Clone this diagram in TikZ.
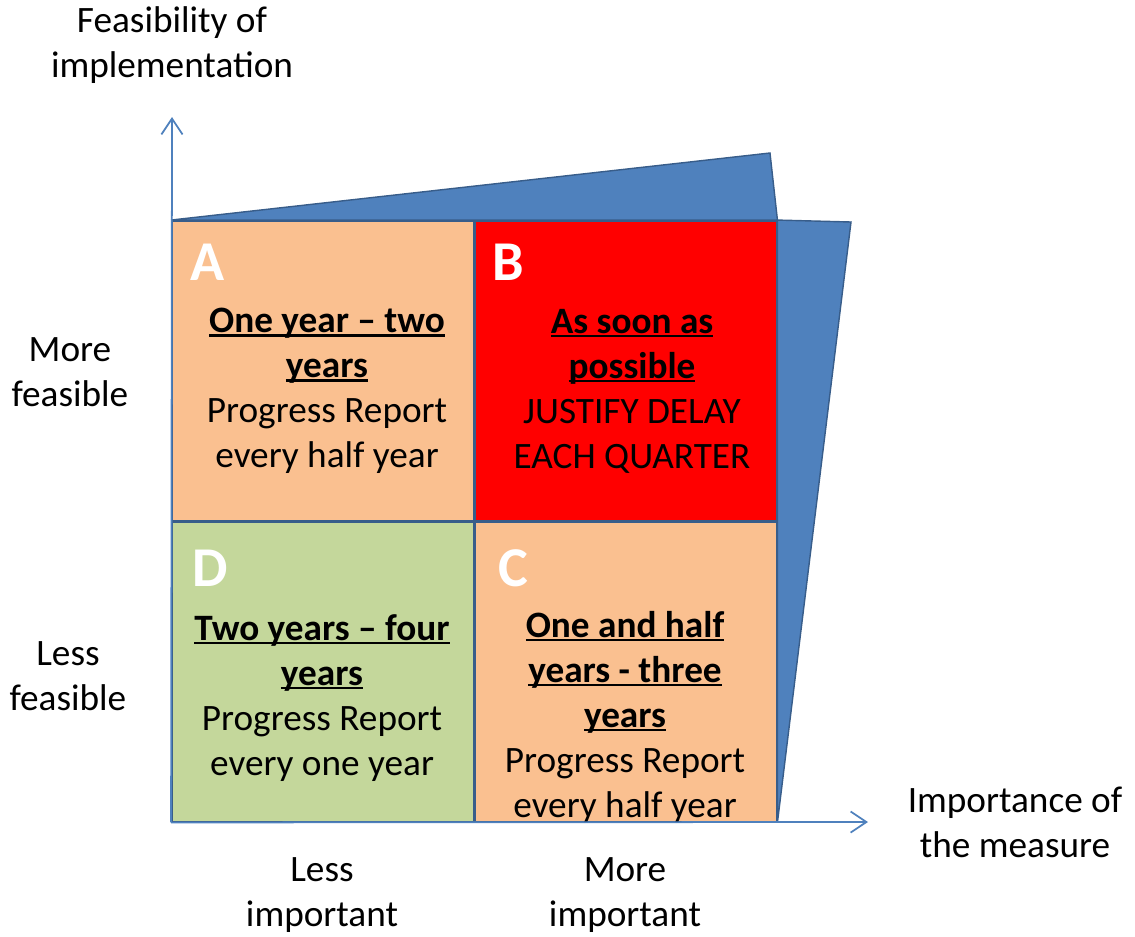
\documentclass[tikz,border=0pt]{standalone}
\usepackage{fontspec}
\setmainfont{Carlito}
\usetikzlibrary{%
	arrows.meta,%
	positioning,%
}
\definecolor{cpeach}{RGB}{250, 192, 144}
\definecolor{cred}{RGB}{255, 0, 0}
\definecolor{cgreen}{RGB}{196, 215, 155}
\definecolor{cblue}{RGB}{79, 129, 189}
\definecolor{cbluedark}{RGB}{56, 93, 138}
\tikzset{
	>={Straight Barb[length=9pt,width=12pt]},%
	nodes={align=center},%
	cell/.style={%
			draw=cbluedark,%
			rectangle,%
			line width=1.1pt,%
			minimum width=6.04cm,%
			minimum height=6cm,%
			inner sep=0},%
	letter/.style={%
			font={\fontsize{32}{38}\selectfont\bfseries},%
			text=white,%
			inner sep=0},%
	celltext/.style={%
			font={\fontsize{21.2}{25.6}\selectfont},%
			inner sep=0},%
	axislabel/.style={%
			font={\fontsize{21.2}{25.6}\selectfont},%
			inner sep=0},%
	wedge/.style={%
			fill=cblue,%
			draw=cbluedark,%
			line width=0.8pt},%
	axis/.style={%
			->,%
			draw=cblue,%
			line width=1pt},%
}
\newcommand{\heading}[1]{\textbf{\setbox0\hbox{#1}\rlap{\rule[-2.2pt]{\wd0}{1.3pt}}\box0}}

\begin{document}
\begin{tikzpicture}[x=0.02cm, y=-0.02cm]%
	\useasboundingbox (0,0) rectangle (1135,936);

	\node[cell, fill=cpeach] (cellA) at (323,371) {};
	\node[cell, fill=cred] (cellB) at (625.5,371) {};
	\node[cell, fill=cgreen] (cellD) at (323,671.5) {};
	\node[cell, fill=cpeach] (cellC) at (625.5,671.5) {};

	\coordinate (wtop) at (770,153);
	\coordinate (wright) at (851,222);
	\draw[wedge] (cellA.north west) -- (wtop) -- (cellB.north east) -- cycle;
	\draw[wedge] (cellB.north east) -- (wright) -- (cellC.south east) -- cycle;

	\node[letter] (letA) at (208,262) {A};
	\node[letter] (letB) at (508,262) {B};
	\node[letter] (letD) at (210,568) {D};
	\node[letter] (letC) at (513,568) {C};

	\node[celltext] (textA) at (327,391) {\heading{One year -- two}\\
			\heading{years}\\
			Progress Report\\
			every half year};
	\node[celltext] (textB) at (632,391) {\heading{As soon as}\\
			\heading{possible}\\
			JUSTIFY DELAY\\
			EACH QUARTER};
	\node[celltext] (textD) at (322,698) {\heading{Two years -- four}\\
			\heading{years}\\
			Progress Report\\
			every one year};
	\node[celltext] (textC) at (625,717) {\heading{One and half}\\
			\heading{years - three}\\
			\heading{years}\\
			Progress Report\\
			every half year};

	\coordinate (origin) at (cellD.south west);
	\coordinate (ytip) at (172,117);
	\coordinate (xtip) at (868,822);
	\draw[axis] (origin) -- (ytip);
	\draw[axis] (origin) -- (xtip);

	\node[axislabel] (feas) at (172,45) {Feasibility of\\implementation};
	\node[axislabel] (morefeas) at (70,372) {More\\feasible};
	\node[axislabel] (lessfeas) at (68,676) {Less\\feasible};
	\node[axislabel] (lessimp) at (322,895) {Less\\important};
	\node[axislabel] (moreimp) at (625,895) {More\\important};
	\node[axislabel] (imp) at (1015,822) {Importance of\\the measure};
\end{tikzpicture}
\end{document}
